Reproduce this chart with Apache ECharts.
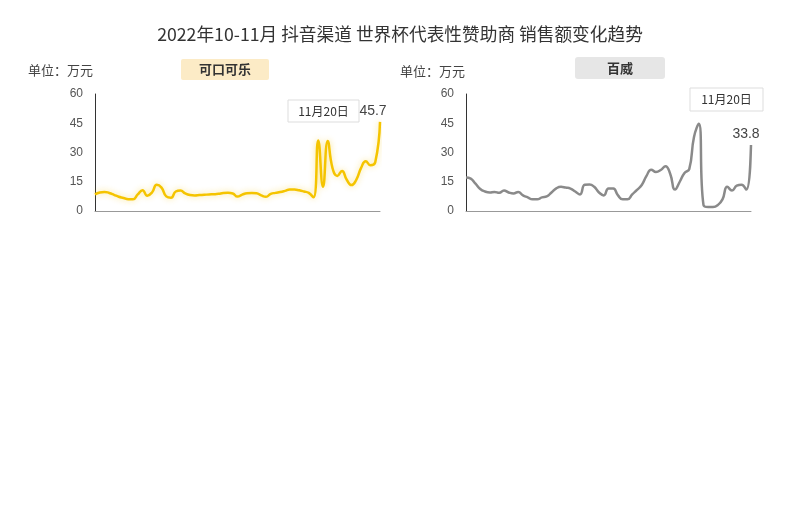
<!DOCTYPE html>
<html><head><meta charset="utf-8">
<script src="https://cdn.jsdelivr.net/npm/echarts@6/dist/echarts.min.js"></script>
<style>html,body{margin:0;padding:0;background:#fff}#c{width:800px;height:515px}</style>
</head><body><div id="c"></div>
<script>
const titleText = '2022年10-11月 抖音渠道 世界杯代表性赞助商 销售额变化趋势';
const brandA = '可口可乐';
const brandB = '百威';
const unitText = '单位：万元';
const markText = '11月20日';
const yTicks = [0, 15, 30, 45, 60];
// Oct 1 – Nov 30
const dates = [];
for (let m of [10, 11]) { const n = m === 10 ? 31 : 30; for (let d = 1; d <= n; d++) dates.push(m + '月' + d + '日'); }
const cocaCola = [8.5,9.5,9.8,9.2,8.3,7.3,6.7,6.0,6.0,8.5,10.7,7.8,9.5,13.5,12,7.5,6.8,10,10.5,9,
  8.2,8,8.2,8.3,8.5,8.6,8.8,9.2,9.3,9,7.4,8.4,9.1,9.2,9.1,8,7.3,8.8,9.3,9.7,
  10.3,11,11,10.6,10,9.3,7,36.2,12.4,35.9,22,18,20.5,16,13.3,16,22,25.5,23.5,25,45.7];
const budweiser = [17.2,16.6,14,11.3,10,9.5,9.8,9.3,10.5,9.5,9,9.8,8,7,6,6,7,7.5,9.5,11.6,
  12.4,12,11.5,10,8.5,13.5,13.6,12.4,9.5,8,11.6,11.5,8,6,6,8.5,10.8,13.3,18,21.2,
  20,21,23,19,11,15,19.5,21.5,38,44.7,3,2,2,3,6,12.4,10.5,13,13.5,11,33.8];

function lastLabel(arr, off) {
  return arr.map((v, i) => i === arr.length - 1 ? {value: v, label: {show: true, position: 'top', distance: 4, offset: off, fontSize: 14, color: '#444', fontFamily: 'Arial'}} : v);
}
const axisY = (gi) => ({
  type: 'value', gridIndex: gi, min: 0, max: 60, interval: 15,
  axisLine: {show: true, lineStyle: {color: '#333', width: 1}},
  axisTick: {show: false}, splitLine: {show: false},
  axisLabel: {color: '#555', fontSize: 12, margin: 12, fontFamily: 'Arial'}
});
const axisX = (gi) => ({
  type: 'category', gridIndex: gi, data: dates, boundaryGap: false,
  axisLine: {show: true, lineStyle: {color: '#999'}}, axisTick: {show: false},
  axisLabel: {show: false}
});
const chart = echarts.init(document.getElementById('c'));
chart.setOption({
  backgroundColor: '#fff',
  animation: false,
  title: {text: titleText, left: 'center', top: 20,
    textStyle: {fontSize: 17.7, fontWeight: 'normal', color: '#333', fontFamily: 'Noto Sans CJK SC'}},
  grid: [
    {left: 95, top: 94, width: 285, height: 117},
    {left: 466, top: 94, width: 285, height: 117}
  ],
  xAxis: [axisX(0), axisX(1)],
  yAxis: [axisY(0), axisY(1)],
  series: [
    {type: 'line', xAxisIndex: 0, yAxisIndex: 0, data: lastLabel(cocaCola, [-7, 0]), smooth: 0.5,
      symbol: 'circle', symbolSize: 0, showSymbol: true, showAllSymbol: true, itemStyle: {color: '#F5C400'},
      lineStyle: {color: '#F5C400', width: 2.5, shadowColor: 'rgba(245,196,0,0.45)', shadowBlur: 6}},
    {type: 'line', xAxisIndex: 1, yAxisIndex: 1, data: lastLabel(budweiser, [-5, 0]), smooth: 0.5,
      symbol: 'circle', symbolSize: 0, showSymbol: true, showAllSymbol: true, itemStyle: {color: '#8a8a8a'},
      lineStyle: {color: '#8a8a8a', width: 2.5}}
  ],
  graphic: [
    {type: 'text', left: 28, top: 64, style: {text: unitText, fontSize: 13, fill: '#444', fontFamily: 'Noto Sans CJK SC'}},
    {type: 'text', left: 400, top: 65, style: {text: unitText, fontSize: 13, fill: '#444', fontFamily: 'Noto Sans CJK SC'}},
    {type: 'rect', shape: {x: 181, y: 59, width: 88, height: 21, r: 2}, style: {fill: '#FCEBC6'}},
    {type: 'text', x: 225, y: 69.5, style: {text: brandA, fontSize: 13, fontWeight: 'bold', fill: '#333', align: 'center', verticalAlign: 'middle', fontFamily: 'Noto Sans CJK SC'}},
    {type: 'rect', shape: {x: 575, y: 57, width: 90, height: 22, r: 3}, style: {fill: '#E6E6E6'}},
    {type: 'text', x: 620, y: 68, style: {text: brandB, fontSize: 13, fontWeight: 'bold', fill: '#333', align: 'center', verticalAlign: 'middle', fontFamily: 'Noto Sans CJK SC'}},
    {type: 'rect', shape: {x: 288, y: 100, width: 71, height: 22}, style: {fill: '#fff', stroke: '#ddd', lineWidth: 1}},
    {type: 'text', x: 323.5, y: 111, style: {text: markText, fontSize: 12, fill: '#333', align: 'center', verticalAlign: 'middle', fontFamily: 'Noto Sans CJK SC'}},
    {type: 'rect', shape: {x: 690, y: 88, width: 73, height: 23}, style: {fill: '#fff', stroke: '#ddd', lineWidth: 1}},
    {type: 'text', x: 726.5, y: 99.5, style: {text: markText, fontSize: 12, fill: '#333', align: 'center', verticalAlign: 'middle', fontFamily: 'Noto Sans CJK SC'}}
  ]
});
</script></body></html>
